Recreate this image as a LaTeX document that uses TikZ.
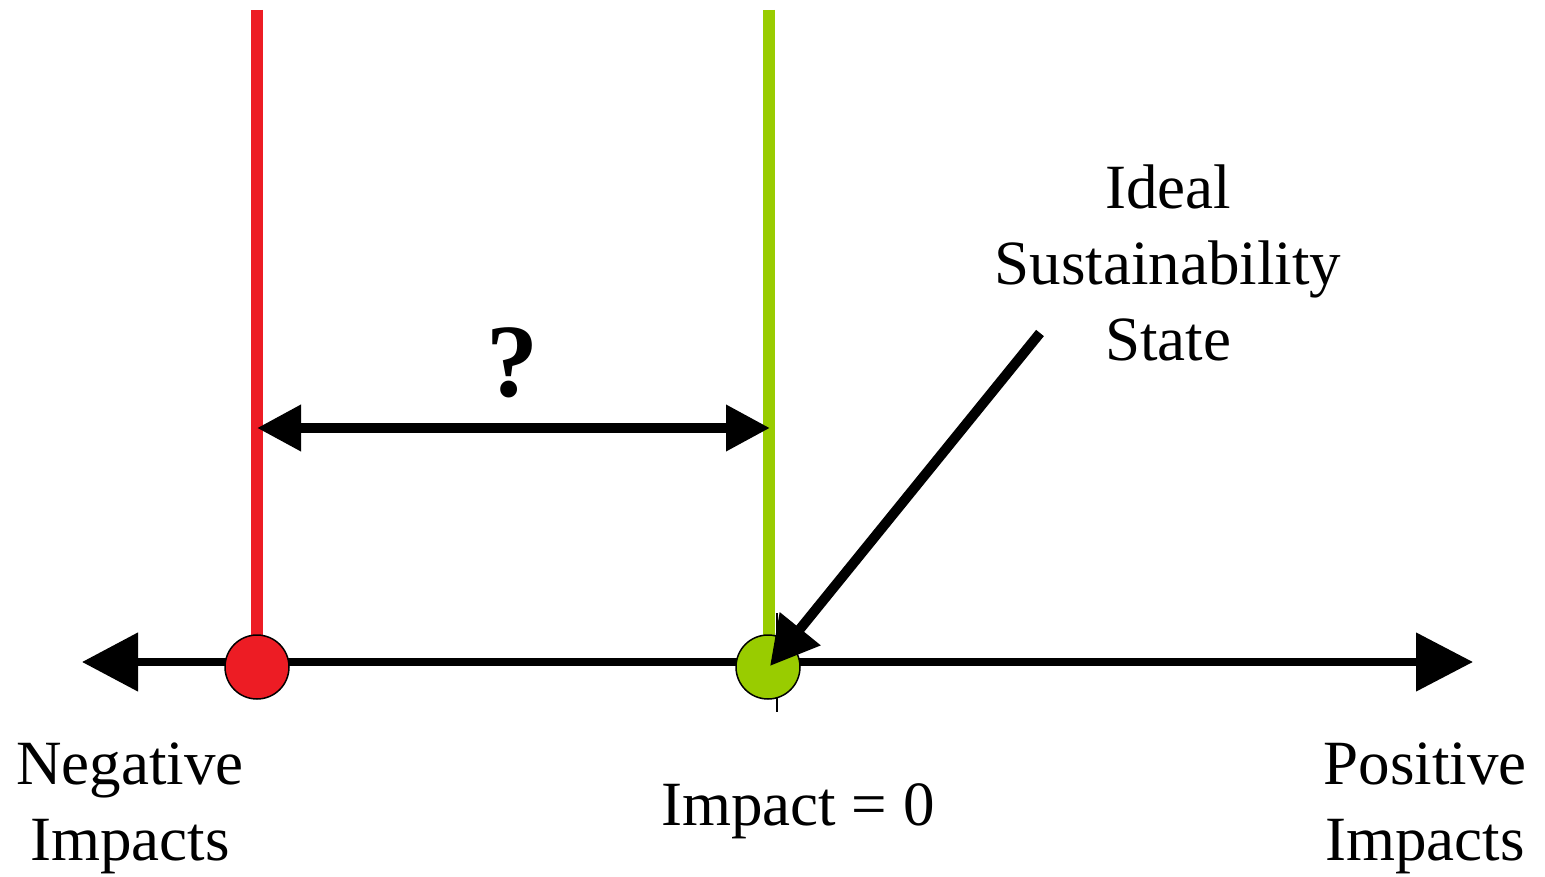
\documentclass[tikz,border=0pt]{standalone}
\usepackage{fontspec}
\setmainfont{Liberation Serif}
\usetikzlibrary{arrows.meta}
\definecolor{badred}{HTML}{ED1C24}
\definecolor{goodgreen}{HTML}{99CC00}
\tikzset{
  dot/.style={circle,draw=black,line width=1.5pt,minimum size=64pt,inner sep=0pt},
  label text/.style={align=center,font=\fontsize{63}{76}\selectfont},
  pointer/.style={line width=10pt,-{Triangle[length=48pt,width=50pt]}},
}
\begin{document}
\begin{tikzpicture}[x=1pt,y=-1pt]
\useasboundingbox (0,0) rectangle (1545,877);
% axis of impacts
\coordinate (leftend) at (82,662);
\coordinate (rightend) at (1473,662);
\draw[line width=8pt,{Triangle[length=56pt,width=57pt]}-{Triangle[length=57pt,width=57pt]}] (leftend) -- (rightend);
% tick at zero
\coordinate (ticktop) at (777,613);
\coordinate (tickbot) at (777,712);
\draw[line width=1.5pt] (ticktop) -- (tickbot);
% the two states
\coordinate (negtop) at (257,10);
\coordinate (zerotop) at (769,10);
\draw[badred,line width=12pt] (negtop) -- (257,640);
\draw[goodgreen,line width=12pt] (zerotop) -- (769,640);
\node[dot,fill=badred] (neg) at (257,667) {};
\node[dot,fill=goodgreen] (zero) at (768,667) {};
% gap between them
\coordinate (gapleft) at (257,428);
\coordinate (gapright) at (770,428);
\draw[line width=10pt,{Triangle[length=44pt,width=44pt]}-{Triangle[length=44pt,width=44pt]}] (gapleft) -- (gapright);
\node[label text,font=\fontsize{104}{110}\selectfont\bfseries,anchor=base] (gapq) at (512,396) {?};
% ideal state
\coordinate (idealtail) at (1040,333);
\draw[pointer] (idealtail) -- (770,666);
\node[label text,anchor=base] (ideal) at (1168,360) {Ideal\\Sustainability\\State};
% axis labels
\node[label text,anchor=base] (negtext) at (130,860) {Negative\\Impacts};
\node[label text,anchor=base] (postext) at (1425,860) {Positive\\Impacts};
\node[label text,anchor=base] (zerotext) at (798,825) {Impact = 0};
\end{tikzpicture}
\end{document}
